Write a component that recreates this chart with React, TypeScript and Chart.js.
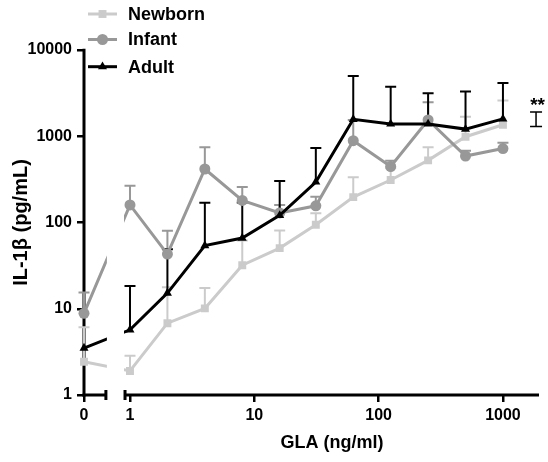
import React, { useEffect, useRef } from 'react';
import { Chart, registerables } from 'chart.js';

Chart.register(...registerables);

// ---- data ----
const DOSES = [0, 1, 2, 4, 8, 16, 31.25, 62.5, 125, 250, 500, 1000];
const ZERO_AT = 0.4266; // axis position used for the "0" dose (broken axis)
const X_MAX = 1950;
const BREAK_FROM = 0.64;
const BREAK_TO = 0.912;
const X_TICKS = [ZERO_AT, 1, 10, 100, 1000];
const X_TICK_LABELS = ['0', '1', '10', '100', '1000'];
const Y_TICKS = [1, 10, 100, 1000, 10000];
const Y_TICK_LABELS = ['1', '10', '100', '1000', '10000'];

const SERIES_LABELS = ['Newborn', 'Infant', 'Adult'];
const NEWBORN_MEAN = [2.43, 1.9, 6.8, 10.1, 32, 50.5, 94, 197, 311, 525, 988, 1360];
const NEWBORN_UPPER = [6.1, 2.85, 17.7, 17.4, 62, 81, 128, 334, 430, 745, 1686, 2590];
const INFANT_MEAN = [8.85, 160, 43, 417, 180, 129, 156, 888, 446, 1543, 590, 720];
const INFANT_UPPER = [15.4, 267, 80, 745, 258, 160, 199, 1543, 520, 2474, 680, 841];
const ADULT_MEAN = [3.5, 5.7, 15.2, 54, 66, 121, 295, 1572, 1387, 1387, 1210, 1590];
const ADULT_UPPER = [3.5, 18.4, 49, 169, 170, 303, 730, 5000, 3740, 3150, 3300, 4130];

const SIG_LABEL = '**';
const SIG_X = 1846;
const SIG_LOW = 1298;
const SIG_HIGH = 1911;

const X_TITLE = 'GLA (ng/ml)';
const Y_TITLE = 'IL-1\u03B2 (pg/mL)';

// ---- styles ----
const COLORS = ['#cbcbcb', '#989898', '#000000'];
const STYLES = ['rect', 'circle', 'triangle'];
const RADII = [5.6, 5.5, 5.2];
const FONT_FAMILY = '"Liberation Sans", Arial, Helvetica, sans-serif';

const MEANS = [NEWBORN_MEAN, INFANT_MEAN, ADULT_MEAN];
const UPPERS = [NEWBORN_UPPER, INFANT_UPPER, ADULT_UPPER];

const xPos = (d: number) => (d === 0 ? ZERO_AT : d);

function labelFor(v: number, ticks: number[], labels: string[]) {
  for (let i = 0; i < ticks.length; i++) {
    if (Math.abs(v - ticks[i]) / ticks[i] < 1e-6) return labels[i];
  }
  return '';
}

function drawMarker(ctx: CanvasRenderingContext2D, style: string, x: number, y: number, r: number) {
  ctx.beginPath();
  if (style === 'rect') {
    const s = Math.SQRT1_2 * r;
    ctx.rect(x - s, y - s, 2 * s, 2 * s);
  } else if (style === 'circle') {
    ctx.arc(x, y, r, 0, Math.PI * 2);
  } else {
    const a = (2 * Math.PI) / 3;
    ctx.moveTo(x, y - r);
    ctx.lineTo(x + Math.sin(a) * r, y - Math.cos(a) * r);
    ctx.lineTo(x + Math.sin(2 * a) * r, y - Math.cos(2 * a) * r);
    ctx.closePath();
  }
  ctx.fill();
}

const decor = {
  id: 'prismDecor',
  beforeDatasetsDraw(chart: any) {
    const { ctx, chartArea, scales } = chart;
    const x = scales.x;
    const y = scales.y;
    ctx.save();
    ctx.strokeStyle = '#000';
    ctx.lineWidth = 3;
    ctx.lineCap = 'butt';
    // y axis
    ctx.beginPath();
    ctx.moveTo(chartArea.left, chartArea.top - 1.25);
    ctx.lineTo(chartArea.left, chartArea.bottom + 1.5);
    ctx.stroke();
    // x axis, broken
    const b1 = x.getPixelForValue(BREAK_FROM);
    const b2 = x.getPixelForValue(BREAK_TO);
    const yb = chartArea.bottom;
    ctx.beginPath();
    ctx.moveTo(chartArea.left - 1.5, yb);
    ctx.lineTo(b1, yb);
    ctx.moveTo(b1, yb - 5);
    ctx.lineTo(b1, yb + 5);
    ctx.moveTo(b2, yb - 5);
    ctx.lineTo(b2, yb + 5);
    ctx.moveTo(b2, yb);
    ctx.lineTo(chartArea.right, yb);
    ctx.stroke();
    // error bars (upper)
    ctx.lineWidth = 2;
    for (let s = 0; s < 3; s++) {
      ctx.strokeStyle = COLORS[s];
      ctx.beginPath();
      DOSES.forEach((d, i) => {
        const m = MEANS[s][i];
        const u = UPPERS[s][i];
        if (u <= m) return;
        const px = x.getPixelForValue(xPos(d));
        const py0 = y.getPixelForValue(m);
        const py1 = y.getPixelForValue(u);
        ctx.moveTo(px, py0);
        ctx.lineTo(px, py1);
        ctx.moveTo(px - 5.5, py1);
        ctx.lineTo(px + 5.5, py1);
      });
      ctx.stroke();
    }
    ctx.restore();
    // clip out the axis break for the data lines
    ctx.save();
    ctx.beginPath();
    ctx.rect(0, 0, b1 + 1, chart.height);
    ctx.rect(b2 - 1, 0, chart.width - b2 + 1, chart.height);
    ctx.clip();
  },
  afterDatasetsDraw(chart: any) {
    chart.ctx.restore();
  },
  afterDraw(chart: any) {
    const { ctx, chartArea, scales } = chart;
    const x = scales.x;
    const y = scales.y;
    ctx.save();
    // legend
    const rows = [14, 39.5, 66.7];
    ctx.font = `bold 18px ${FONT_FAMILY}`;
    ctx.textBaseline = 'middle';
    ctx.textAlign = 'left';
    for (let s = 0; s < 3; s++) {
      const ry = rows[s];
      ctx.strokeStyle = COLORS[s];
      ctx.fillStyle = COLORS[s];
      ctx.lineWidth = 3;
      ctx.beginPath();
      ctx.moveTo(88, ry);
      ctx.lineTo(117, ry);
      ctx.stroke();
      drawMarker(ctx, STYLES[s], 102.5, ry, RADII[s]);
      ctx.fillStyle = '#000';
      ctx.fillText(SERIES_LABELS[s], 128, ry + 1);
    }
    // x title, centred on the log segment
    const b2 = x.getPixelForValue(BREAK_TO);
    ctx.textAlign = 'center';
    ctx.fillText(X_TITLE, (b2 + chartArea.right) / 2, 443);
    // significance bracket
    const sx = x.getPixelForValue(SIG_X);
    const sTop = y.getPixelForValue(SIG_HIGH);
    const sBot = y.getPixelForValue(SIG_LOW);
    ctx.strokeStyle = '#000';
    ctx.lineWidth = 1.5;
    ctx.beginPath();
    ctx.moveTo(sx, sTop);
    ctx.lineTo(sx, sBot);
    ctx.moveTo(sx - 6, sTop);
    ctx.lineTo(sx + 6, sTop);
    ctx.moveTo(sx - 6, sBot);
    ctx.lineTo(sx + 6, sBot);
    ctx.stroke();
    ctx.font = `bold 19px ${FONT_FAMILY}`;
    ctx.textBaseline = 'alphabetic';
    ctx.fillText(SIG_LABEL, sx + 1.5, sTop - 1);
    ctx.restore();
  },
};

export default function App() {
  const ref = useRef<HTMLCanvasElement>(null);
  useEffect(() => {
    const tickFont = { family: FONT_FAMILY, size: 16, weight: 'bold' as const };
    const datasets = SERIES_LABELS.map((label, s) => ({
      label,
      data: DOSES.map((d, i) => ({ x: xPos(d), y: MEANS[s][i] })),
      borderColor: COLORS[s],
      backgroundColor: COLORS[s],
      borderWidth: 3,
      pointStyle: STYLES[s],
      pointRadius: RADII[s],
      pointBorderWidth: 0,
      pointHoverRadius: RADII[s],
      tension: 0,
      clip: 12,
      order: 2 - s,
    }));
    const chart = new Chart(ref.current as HTMLCanvasElement, {
      type: 'line',
      data: { datasets } as any,
      options: {
        animation: false,
        responsive: true,
        maintainAspectRatio: false,
        layout: { padding: { top: 50, right: 9, left: 0, bottom: 0 } },
        plugins: { legend: { display: false }, tooltip: { enabled: false } },
        scales: {
          x: {
            type: 'logarithmic',
            min: ZERO_AT,
            max: X_MAX,
            afterBuildTicks: (s: any) => {
              s.ticks = X_TICKS.map((v) => ({ value: v }));
            },
            afterFit: (s: any) => {
              s.height = 67;
            },
            ticks: {
              autoSkip: false,
              maxRotation: 0,
              padding: 4,
              color: '#000',
              font: tickFont,
              callback: (v: any) => labelFor(Number(v), X_TICKS, X_TICK_LABELS),
            },
            grid: { display: true, drawOnChartArea: false, drawTicks: true, tickLength: 7, color: '#000', lineWidth: 2.5 },
            border: { display: false },
          },
          y: {
            type: 'logarithmic',
            min: 1,
            max: 10000,
            afterBuildTicks: (s: any) => {
              s.ticks = Y_TICKS.map((v) => ({ value: v }));
            },
            afterFit: (s: any) => {
              s.width = 84;
            },
            ticks: {
              autoSkip: false,
              padding: 5,
              color: '#000',
              font: tickFont,
              callback: (v: any) => labelFor(Number(v), Y_TICKS, Y_TICK_LABELS),
            },
            grid: { display: true, drawOnChartArea: false, drawTicks: true, tickLength: 7, color: '#000', lineWidth: 2.5 },
            border: { display: false },
            title: {
              display: true,
              text: Y_TITLE,
              color: '#000',
              font: { family: FONT_FAMILY, size: 20, weight: 'bold' },
              padding: { top: 9, bottom: 0 },
            },
          },
        },
      } as any,
      plugins: [decor],
    });
    return () => chart.destroy();
  }, []);
  return (
    <div style={{ position: 'absolute', left: 0, top: 0, width: 548, height: 462 }}>
      <canvas ref={ref} />
    </div>
  );
}
